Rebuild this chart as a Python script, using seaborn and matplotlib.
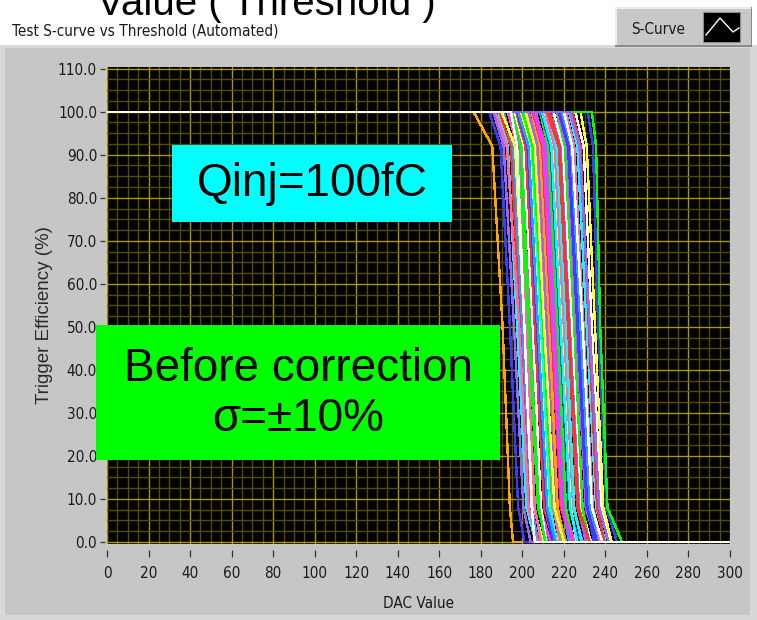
import numpy as np
import pandas as pd
import matplotlib
matplotlib.use("Agg")
import matplotlib.pyplot as plt
from matplotlib.patches import Rectangle
from matplotlib.lines import Line2D
from matplotlib.ticker import MultipleLocator
import seaborn as sns

# ---------------- data ----------------
dac_min, dac_max = 0, 300
eff_levels = [100, 100, 92, 50, 8, 0, 0]   # efficiency (%) at the points below

curve_colors = [
    "#ffa500", "#3c3cff", "#9966ff", "#00ffff", "#ff3333", "#3399ff", "#ffff33",
    "#ff66b3", "#00ff00", "#ff33ff", "#ffffff", "#ff3333", "#3c3cff", "#ffff33",
    "#00ffff", "#00ff00", "#ff66b3", "#9966ff", "#ffa500", "#ff3333", "#3399ff",
    "#ff33ff", "#00ff00", "#3c3cff", "#ffff33", "#ff66b3", "#00ffff", "#ff3333",
    "#9966ff", "#ffffff", "#00ff00", "#ff33ff", "#3c3cff", "#3399ff", "#ff66b3",
    "#00ffff", "#ff3333", "#ffffff", "#ffff33", "#3c3cff", "#00ff00",
    "#ff66b3", "#00ff00", "#3399ff", "#ffff33", "#ff33ff", "#00ffff", "#ff3333",
    "#3c3cff", "#ffffff", "#9966ff",
    "#ffffff",
]
x_leave = [176.5, 184.0, 186.0, 188.5, 189.0, 191.0, 190.0, 193.0, 194.5, 193.5,
           196.0, 197.0, 197.5, 199.0, 200.5, 200.0, 202.5, 203.0, 204.5, 205.0,
           206.5, 206.0, 208.5, 209.0, 210.5, 211.0, 212.5, 212.0, 214.5, 215.0,
           216.5, 217.0, 218.5, 219.0, 221.0, 222.5, 224.0, 225.5, 228.0, 231.5,
           233.5,
           187.0, 195.0, 198.0, 201.5, 205.5, 209.5, 213.0, 217.5, 220.0, 223.0,
           194.5]
x_92 = [185.5, 189.5, 191.0, 193.0, 194.5, 195.5, 196.5, 197.5, 198.5, 199.0,
        200.5, 201.5, 202.5, 203.5, 204.5, 205.0, 206.5, 207.5, 208.5, 209.5,
        210.5, 211.5, 212.5, 213.5, 214.5, 215.5, 216.5, 217.5, 218.5, 219.5,
        220.5, 221.5, 222.5, 223.5, 225.0, 226.5, 228.0, 229.5, 231.0, 234.0,
        235.5,
        192.5, 199.5, 203.0, 206.0, 210.0, 214.0, 218.0, 222.0, 224.0, 227.5,
        197.5]
x_50 = [190.5, 194.0, 196.0, 197.5, 199.0, 200.0, 201.0, 202.0, 203.0, 204.0,
        205.0, 206.0, 207.0, 208.0, 209.0, 210.0, 211.0, 212.0, 213.0, 214.0,
        215.0, 216.0, 217.0, 218.0, 219.0, 220.0, 221.0, 222.0, 223.0, 224.0,
        225.0, 226.0, 227.0, 228.0, 229.5, 231.0, 232.0, 233.5, 235.0, 236.5,
        237.5,
        198.5, 203.5, 207.5, 210.5, 214.5, 218.5, 222.5, 226.5, 229.0, 232.5,
        201.0]
x_8 = [194.0, 198.0, 200.5, 202.0, 203.5, 204.5, 205.5, 206.0, 207.5, 208.5,
       209.0, 210.5, 211.5, 212.5, 213.5, 214.5, 215.0, 216.5, 217.0, 218.5,
       219.5, 220.5, 221.0, 222.5, 223.5, 224.5, 225.0, 226.5, 227.5, 228.5,
       229.0, 230.5, 231.5, 232.5, 234.0, 235.5, 236.0, 238.0, 239.0, 240.5,
       241.0,
       203.0, 208.0, 212.0, 215.5, 219.0, 223.0, 227.0, 231.0, 233.5, 237.0,
       204.5]
x_zero = [195.5, 201.0, 204.0, 206.5, 208.0, 207.5, 210.0, 209.0, 212.0, 213.5,
          211.5, 215.0, 214.5, 217.0, 216.5, 219.5, 218.0, 221.0, 220.5, 223.5,
          222.5, 225.0, 224.0, 227.5, 226.0, 229.0, 228.5, 231.0, 230.5, 233.0,
          232.0, 235.5, 234.5, 237.0, 237.5, 240.0, 239.5, 242.5, 243.0, 245.5,
          248.0,
          207.0, 211.0, 216.0, 220.0, 224.5, 226.5, 232.5, 236.0, 238.5, 241.5,
          206.0]

x_ticks = list(range(0, 301, 20))
y_ticks = [0, 10, 20, 30, 40, 50, 60, 70, 80, 90, 100, 110]
y_tick_labels = ["0.0", "10.0", "20.0", "30.0", "40.0", "50.0", "60.0",
                 "70.0", "80.0", "90.0", "100.0", "110.0"]

title_text = "Test S-curve vs Threshold (Automated)"
slide_text = "Value ( Threshold )"
legend_label = "S-Curve"
x_label = "DAC Value"
y_label = "Trigger Efficiency (%)"
box1_text = "Qinj=100fC"
box2_text = "Before correction\nσ=±10%"

# ---------------- long-form table ----------------
rows = []
labels = []
for i in range(len(x_50)):
    lab = f"ch{i:02d}"
    labels.append(lab)
    xs = [dac_min, x_leave[i], x_92[i], x_50[i], x_8[i], x_zero[i], dac_max]
    for x, y in zip(xs, eff_levels):
        rows.append((lab, x, y))
df = pd.DataFrame(rows, columns=["curve", "dac", "eff"])
palette = dict(zip(labels, curve_colors))

# ---------------- figure ----------------
W, H = 757, 620
fig = plt.figure(figsize=(W / 100, H / 100), dpi=100)
fig.patch.set_facecolor("white")

def fx(x):
    return x / W

def fy(y):
    return 1 - y / H

def prect(x0, y0, x1, y1, **kw):
    r = Rectangle((fx(x0), fy(y1)), fx(x1) - fx(x0), fy(y0) - fy(y1),
                  transform=fig.transFigure, **kw)
    fig.add_artist(r)
    return r

# gray panel
prect(0, 45, W, H, facecolor="#c6c6c6", edgecolor="none", zorder=-10)
prect(0, 45, 5, H, facecolor="#d8d8d8", edgecolor="none", zorder=-9)
prect(750, 45, W, H, facecolor="#d8d8d8", edgecolor="none", zorder=-9)
prect(0, 45, W, 48, facecolor="#d8d8d8", edgecolor="none", zorder=-9)
prect(0, 615, W, H, facecolor="#d8d8d8", edgecolor="none", zorder=-9)

ax = fig.add_axes([fx(107), fy(544), fx(730) - fx(107), fy(67) - fy(544)])
ax.set_facecolor("black")

sns.lineplot(data=df, x="dac", y="eff", hue="curve", hue_order=labels,
             palette=palette, sort=False, estimator=None, legend=False,
             linewidth=1.0, antialiased=False, ax=ax)

ax.set_xlim(dac_min, dac_max)
ax.set_ylim(-0.5, 110.4)
ax.set_xticks(x_ticks)
ax.set_xticklabels([str(t) for t in x_ticks])
ax.set_yticks(y_ticks)
ax.set_yticklabels(y_tick_labels)
ax.xaxis.set_minor_locator(MultipleLocator(5))
ax.yaxis.set_minor_locator(MultipleLocator(2.5))
ax.set_axisbelow(True)
ax.grid(which="minor", color="#544c00", linewidth=1.0)
ax.grid(which="major", color="#a89800", linewidth=1.0)

for s in ax.spines.values():
    s.set_visible(False)
ax.spines["left"].set_position(("outward", 1.4))
ax.spines["bottom"].set_position(("outward", 4))

ax.tick_params(axis="y", which="major", direction="out", length=3.6, width=0.9,
               color="#333333", pad=2.2, labelcolor="#1a1a1a")
ax.tick_params(axis="x", which="major", direction="out", length=5, width=0.9,
               color="#333333", pad=6.5, labelcolor="#1a1a1a")
ax.tick_params(which="minor", length=0)
for lab in ax.get_xticklabels() + ax.get_yticklabels():
    lab.set_fontfamily("DejaVu Sans")
    lab.set_fontstretch("condensed")
    lab.set_fontsize(11)

ax.set_xlabel(x_label, fontfamily="DejaVu Sans", fontstretch="condensed",
              fontsize=11, color="#1a1a1a")
ax.xaxis.set_label_coords(0.5, (544 - 603) / 477)
ax.xaxis.label.set_va("center")
ax.set_ylabel(y_label, fontfamily="Liberation Sans", fontsize=13.5,
              color="#2a2a2a")
ax.yaxis.set_label_coords((45 - 107) / 623, (544 - 315) / 477)
ax.yaxis.label.set_va("center")

# header texts
fig.text(fx(97), fy(15), slide_text, fontfamily="Liberation Sans",
         fontsize=29, va="baseline", ha="left", color="black")
fig.text(fx(12), fy(31), title_text, fontfamily="DejaVu Sans",
         fontstretch="condensed", fontsize=11, va="center", ha="left",
         color="#1a1a1a")

# legend box (LabVIEW plot legend)
prect(615, 7, 752, 47, facecolor="#c8c8c8", edgecolor="none", zorder=2)
prect(615, 7, 752, 8.5, facecolor="#ececec", edgecolor="none", zorder=3)
prect(615, 7, 616.5, 47, facecolor="#ececec", edgecolor="none", zorder=3)
prect(615, 45.5, 752, 47, facecolor="#8a8a8a", edgecolor="none", zorder=3)
prect(750.5, 7, 752, 47, facecolor="#8a8a8a", edgecolor="none", zorder=3)
fig.text(fx(658), fy(29), legend_label, fontfamily="DejaVu Sans",
         fontstretch="condensed", fontsize=11, va="center", ha="center",
         color="#1a1a1a", zorder=4)
prect(703, 12, 740, 42, facecolor="black", edgecolor="#888888", linewidth=0.8,
      zorder=4)
fig.add_artist(Line2D([fx(706), fx(720), fx(733), fx(739)],
                      [fy(35), fy(18), fy(32), fy(28)],
                      transform=fig.transFigure, color="white", linewidth=1.0,
                      zorder=5))

# annotation boxes
prect(172, 145, 452, 222, facecolor="#00ffff", edgecolor="none", zorder=10)
fig.text(fx(312), fy(184), box1_text, fontfamily="Liberation Sans",
         fontsize=33, va="center", ha="center", color="black", zorder=11)
prect(96, 325, 500, 460, facecolor="#00ff00", edgecolor="none", zorder=10)
fig.text(fx(298), fy(394), box2_text, fontfamily="Liberation Sans",
         fontsize=33, va="center", ha="center", color="black",
         linespacing=1.2, multialignment="center", zorder=11)

fig.savefig("out.png", dpi=100)
